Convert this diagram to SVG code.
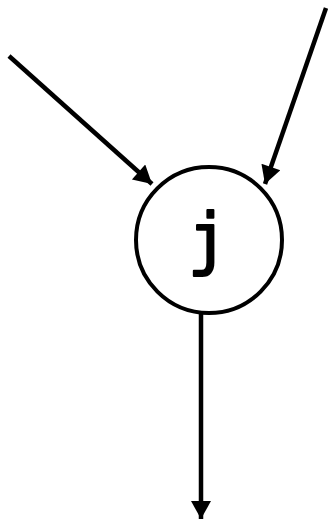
<svg xmlns="http://www.w3.org/2000/svg" width="332" height="520" viewBox="0 0 332 520">
<style>
.edge{stroke:#000;stroke-width:4.5;fill:none}
.node{fill:#fff;stroke:#000;stroke-width:4}
.label{font-family:"DejaVu Sans Mono",monospace;font-size:67px;fill:#000;stroke:#000;stroke-width:2;stroke-linejoin:round}
</style>
<defs>
<marker id="arr" markerUnits="userSpaceOnUse" markerWidth="20" markerHeight="20" viewBox="0 0 18 20" refX="18" refY="10" orient="auto">
<path d="M0,0 L18,10 L0,20 Z" fill="#000"/>
</marker>
</defs>
<g id="connectors">
<line class="edge" x1="9" y1="56" x2="152" y2="184" marker-end="url(#arr)"/>
<line class="edge" x1="326" y1="8" x2="265" y2="184" marker-end="url(#arr)"/>
<line class="edge" x1="201" y1="314" x2="201" y2="519" marker-end="url(#arr)"/>
</g>
<g id="node-j">
<circle class="node" cx="209" cy="240" r="73"/>
<text class="label" x="208" y="262" text-anchor="middle">j</text>
</g>
</svg>
